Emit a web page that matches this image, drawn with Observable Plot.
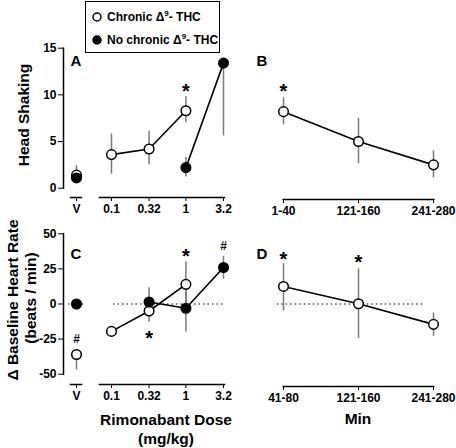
<!DOCTYPE html>
<html><head><meta charset="utf-8">
<script src="https://cdn.jsdelivr.net/npm/d3@7"></script>
<script src="https://cdn.jsdelivr.net/npm/@observablehq/plot@0.6"></script>
<style>
body{margin:0;background:#fff;}
#root{position:relative;width:456px;height:448px;font-family:"Liberation Sans",Arial,sans-serif;font-weight:bold;color:#000;overflow:hidden;}
#root svg{position:absolute;left:0;top:0;}
.lbl{position:absolute;white-space:nowrap;line-height:1;}
.legend{position:absolute;border:1.5px solid #000;box-sizing:border-box;background:#fff;font-size:12px;}
.legend .row{position:absolute;left:5px;display:flex;align-items:center;gap:4px;white-space:nowrap;}
</style></head><body><div id="root"></div>
<script>
// ---------- data ----------
const groups = ["Chronic \u0394\u2079- THC", "No chronic \u0394\u2079- THC"];
const doses = [0.1, 0.32, 1, 3.2];
const doseTickLabels = ["0.1", "0.32", "1", "3.2"];
const vehicleLabel = ["V"];
const timesB = ["1-40", "121-160", "241-280"];
const timesD = ["41-80", "121-160", "241-280"];
const headTicks = [0, 5, 10, 15];
const hrTicks = [-50, -25, 0, 25, 50];

// Panel A: head shaking (mean, lower and upper end of error bar)
const aVehMean = [1.4, 1.1];            // [chronic, no chronic]
const aVehLo   = [1.4, 0.7];
const aVehHi   = [2.4, 1.1];
const aChronicMean = [3.6, 4.2, 8.3, null];
const aChronicLo   = [1.5, 2.5, 7.0, null];
const aChronicHi   = [5.8, 6.1, 9.8, null];
const aNoChronicMean = [null, null, 2.2, 13.4];
const aNoChronicLo   = [null, null, 1.2, 5.6];
const aNoChronicHi   = [null, null, 3.3, 13.4];

// Panel B: head shaking over time (chronic)
const bMean = [8.2, 5.0, 2.5];
const bLo   = [6.8, 2.6, 1.1];
const bHi   = [9.7, 7.5, 4.0];

// Panel C: change in baseline heart rate
const cVehMean = [-36, 0];
const cVehLo   = [-47, 0];
const cVehHi   = [-36, 0];
const cChronicMean = [-19.5, -5, 14, null];
const cChronicLo   = [-19.5, -13, -2, null];
const cChronicHi   = [-19.5, 3, 30, null];
const cNoChronicMean = [null, 1.4, -3, 26];
const cNoChronicLo   = [null, -6, -20, 17.6];
const cNoChronicHi   = [null, 11.6, 14, 34];

// Panel D: change in heart rate over time (chronic)
const dMean = [12.5, 0.2, -14.5];
const dLo   = [-5, -24.7, -23];
const dHi   = [28.7, 25, -6.4];

// significance marks (x category / dose, y in data units, symbol)
const aMarks = [{x: 1, y: 10.9, s: "*"}];
const bMarks = [{x: "1-40", y: 10.9, s: "*"}];
const cVehMarks = [{x: "V", y: -25, s: "#"}];
const cMarks = [{x: 1, y: 37, s: "*"}, {x: 0.32, y: -21, s: "*"}, {x: 3.2, y: 41, s: "#"}];
const dMarks = [{x: "41-80", y: 35.5, s: "*"}, {x: "121-160", y: 33, s: "*"}];

// ---------- helpers ----------
const rows = (xs, mean, lo, hi) => xs.map((x, i) => ({x, mean: mean[i], lo: lo[i], hi: hi[i]})).filter(d => d.mean != null);
const W = 456, H = 448;
const FONT = '"Liberation Sans", Arial, sans-serif';
const ERR = "#7a7a7a";

function seriesMarks(chronic, noChronic) {
  const m = [];
  for (const s of [chronic, noChronic]) if (s) m.push(Plot.ruleX(s, {x: "x", y1: "lo", y2: "hi", stroke: ERR, strokeWidth: 1.5}));
  for (const s of [chronic, noChronic]) if (s && s.length > 1) m.push(Plot.line(s, {x: "x", y: "mean", stroke: "black", strokeWidth: 1.6}));
  if (chronic) m.push(Plot.dot(chronic, {x: "x", y: "mean", r: 4.8, fill: "white", stroke: "black", strokeWidth: 1.5}));
  if (noChronic) m.push(Plot.dot(noChronic, {x: "x", y: "mean", r: 4.8, fill: "black", stroke: "black", strokeWidth: 1.5}));
  return m;
}
function sigMarks(list) {
  return [
    Plot.text(list.filter(d => d.s === "*"), {x: "x", y: "y", text: "s", fontSize: 20, fontWeight: "bold", dy: 5}),
    Plot.text(list.filter(d => d.s === "#"), {x: "x", y: "y", text: "s", fontSize: 12, fontWeight: "bold"})
  ];
}
function make(opts) {
  return Plot.plot({
    width: W, height: H,
    style: {background: "none", fontFamily: FONT, fontSize: "12px", fontWeight: "bold", color: "black", overflow: "visible"},
    ...opts
  });
}
const root = document.getElementById("root");

// row geometry
const yA = () => ({domain: [0, 15], insetBottom: 9.3, axis: null});
const yAmargins = {marginTop: 47.7, marginBottom: H - 197};
const yB = () => ({domain: [0, 15], insetBottom: 11.3, axis: null});
const yBmargins = {marginTop: 47.7, marginBottom: H - 199};
const yC = () => ({domain: [-50, 50], insetBottom: 10.3, axis: null});
const yCmargins = {marginTop: 233.3, marginBottom: H - 384};
const yD = () => ({domain: [-50, 50], insetBottom: 12.3, axis: null});
const yDmargins = {marginTop: 233.3, marginBottom: H - 386};

const vehX = () => ({type: "point", domain: vehicleLabel, insetLeft: 7, insetRight: 3, axis: null});
const vehXmargins = {marginLeft: 63, marginRight: W - 84};
const doseX = () => ({type: "log", domain: [0.1, 3.2], insetLeft: 12, insetRight: 1, axis: null});
const doseXmargins = {marginLeft: 99, marginRight: W - 224};
const timeXmargins = {marginLeft: 276.7, marginRight: W - 433.3};

const axX = (o = {}) => Plot.axisX({tickSize: 4, tickPadding: 3, label: null, fontSize: 12, fontWeight: "bold", ...o});
const axY = (ticks) => Plot.axisY({ticks, tickFormat: d => String(d), tickSize: 5, tickPadding: 2, label: null, fontSize: 12, fontWeight: "bold"});

// Panel A - vehicle
root.appendChild(make({
  ...vehXmargins, ...yAmargins, x: vehX(), y: yA(),
  marks: [
    Plot.frame({anchor: "bottom", insetLeft: 7, insetRight: 3, strokeWidth: 1.5}),
    axX(),
    ...seriesMarks(rows(vehicleLabel, [aVehMean[0]], [aVehLo[0]], [aVehHi[0]]), rows(vehicleLabel, [aVehMean[1]], [aVehLo[1]], [aVehHi[1]]))
  ]
}));
// Panel A - doses
root.appendChild(make({
  ...doseXmargins, ...yAmargins, x: doseX(), y: yA(),
  marks: [
    Plot.frame({anchor: "bottom", strokeWidth: 1.5}),
    axX({ticks: doses, tickFormat: d => doseTickLabels[doses.indexOf(d)]}),
    ...seriesMarks(rows(doses, aChronicMean, aChronicLo, aChronicHi), rows(doses, aNoChronicMean, aNoChronicLo, aNoChronicHi)),
    ...sigMarks(aMarks)
  ]
}));
// Panel B
root.appendChild(make({
  ...timeXmargins, ...yBmargins, x: {type: "point", domain: timesB, padding: 0, insetLeft: 6, axis: null}, y: yB(),
  marks: [
    Plot.frame({anchor: "bottom", insetLeft: 6, strokeWidth: 1.5}),
    axX(),
    ...seriesMarks(rows(timesB, bMean, bLo, bHi), null),
    ...sigMarks(bMarks)
  ]
}));
// Panel C - vehicle
root.appendChild(make({
  ...vehXmargins, ...yCmargins, x: vehX(), y: yC(),
  marks: [
    Plot.frame({anchor: "bottom", insetLeft: 7, insetRight: 3, strokeWidth: 1.5}),
    Plot.ruleY([0], {strokeDasharray: "1.5,3", strokeWidth: 1.2, insetLeft: 5}),
    axX(),
    ...seriesMarks(rows(vehicleLabel, [cVehMean[0]], [cVehLo[0]], [cVehHi[0]]), rows(vehicleLabel, [cVehMean[1]], [cVehLo[1]], [cVehHi[1]])),
    ...sigMarks(cVehMarks)
  ]
}));
// Panel C - doses
root.appendChild(make({
  ...doseXmargins, ...yCmargins, x: doseX(), y: yC(),
  marks: [
    Plot.frame({anchor: "bottom", strokeWidth: 1.5}),
    Plot.ruleY([0], {strokeDasharray: "1.5,3", strokeWidth: 1.2, insetLeft: 14}),
    axX({ticks: doses, tickFormat: d => doseTickLabels[doses.indexOf(d)]}),
    ...seriesMarks(rows(doses, cChronicMean, cChronicLo, cChronicHi), rows(doses, cNoChronicMean, cNoChronicLo, cNoChronicHi)),
    ...sigMarks(cMarks)
  ]
}));
// Panel D
root.appendChild(make({
  ...timeXmargins, ...yDmargins, x: {type: "point", domain: timesD, padding: 0, insetLeft: 6, axis: null}, y: yD(),
  marks: [
    Plot.frame({anchor: "bottom", insetLeft: 6, strokeWidth: 1.5}),
    Plot.ruleY([0], {strokeDasharray: "1.5,3", strokeWidth: 1.2, insetRight: 10}),
    axX(),
    ...seriesMarks(rows(timesD, dMean, dLo, dHi), null),
    ...sigMarks(dMarks)
  ]
}));

// ---------- text labels ----------
function label(text, cx, cy, size, rotate = false) {
  const el = document.createElement("div");
  el.className = "lbl";
  el.textContent = text;
  el.style.fontSize = size + "px";
  el.style.left = cx + "px";
  el.style.top = cy + "px";
  el.style.transform = "translate(-50%,-50%)" + (rotate ? " rotate(-90deg)" : "");
  root.appendChild(el);
}
label("A", 76, 60, 15); label("B", 262, 60, 15);
label("C", 76, 253, 15); label("D", 262, 253, 15);
label("Head Shaking", 24, 115, 15.5, true);
label("\u0394 Baseline Heart Rate", 13, 300, 15.5, true);
label("(beats / min)", 31, 298, 15.5, true);
label("Rimonabant Dose", 166, 420, 15.5);
label("(mg/kg)", 166, 439, 15.5);
label("Min", 358, 419, 15.5);

// ---------- legend ----------
const lg = document.createElement("div");
lg.className = "legend";
Object.assign(lg.style, {left: "85px", top: "1px", width: "135px", height: "52px"});
const fills = ["white", "black"];
groups.forEach((g, i) => {
  const r = document.createElement("div");
  r.className = "row";
  r.style.top = (i === 0 ? 7 : 30) + "px";
  const parts = g.split("\u2079");
  r.innerHTML = `<svg width="12" height="12" style="position:static"><circle cx="6" cy="6" r="4" fill="${fills[i]}" stroke="black" stroke-width="1.5"/></svg><span>${parts[0]}<sup style="font-size:8px">9</sup>${parts[1]}</span>`;
  lg.appendChild(r);
});
root.appendChild(lg);

// ---------- y axes, drawn last so nothing paints over them ----------
root.appendChild(make({
  ...vehXmargins, ...yAmargins, x: vehX(), y: yA(),
  marks: [axY(headTicks), Plot.frame({anchor: "left", insetBottom: 9.3, strokeWidth: 1.5})]
}));
root.appendChild(make({
  ...vehXmargins, ...yCmargins, x: vehX(), y: yC(),
  marks: [axY(hrTicks), Plot.frame({anchor: "left", insetBottom: 10.3, strokeWidth: 1.5})]
}));
</script></body></html>
